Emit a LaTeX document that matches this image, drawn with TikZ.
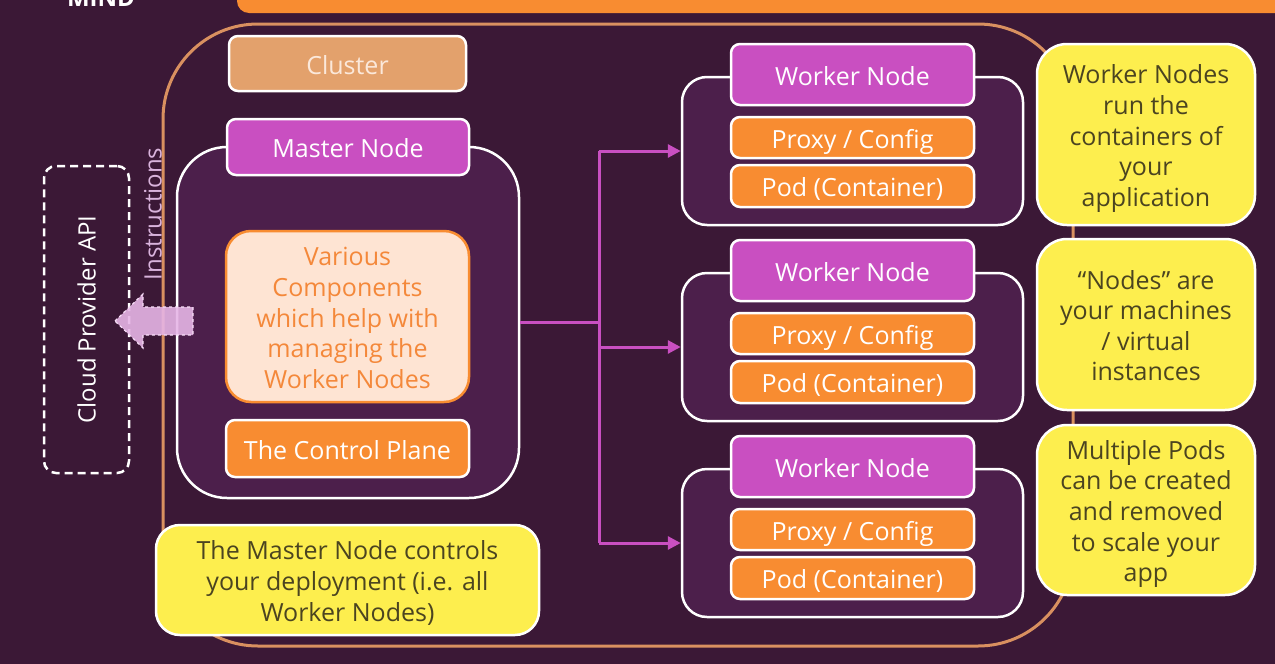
\documentclass[tikz,border=0pt]{standalone}
\usepackage{fontspec}
\setmainfont{Open Sans}
\usetikzlibrary{arrows.meta}
\definecolor{bg}{HTML}{3B1836}
\definecolor{cont}{HTML}{4C1F4B}
\definecolor{magenta}{HTML}{C94FC1}
\definecolor{orng}{HTML}{F88C31}
\definecolor{tan}{HTML}{E3A16C}
\definecolor{ylw}{HTML}{FDEE4E}
\definecolor{ytext}{HTML}{4B4420}
\definecolor{clline}{HTML}{D99060}
\definecolor{peach}{HTML}{FEE4D3}
\definecolor{peachtext}{HTML}{F4883A}
\definecolor{arrowfill}{HTML}{E6B5E6}
\definecolor{arrowline}{HTML}{F7DDF7}
\definecolor{instr}{HTML}{D9B3DC}
\definecolor{clustertext}{HTML}{FBE8DA}
\newcommand\topstr{\rule{0pt}{28pt}}
\newcommand\botstr{\rule[-7pt]{0pt}{7pt}}
\tikzset{
  txt/.style={font=\fontsize{25}{30.6}\selectfont, align=center, inner sep=0pt},
  labelbox/.style={txt, draw=white, line width=2.5pt, rounded corners=9pt, text=white, minimum width=243pt, text height=28pt, text depth=7pt},
  contbox/.style={draw=white, line width=2.5pt, fill=cont},
  yellowbox/.style={txt, draw=white, line width=2.5pt, fill=ylw, text=ytext, rounded corners=30pt},
  link/.style={magenta, line width=3pt},
  linkarrow/.style={link, -{Triangle[length=13pt,width=13pt]}},
  dashbox/.style={draw=white, dash pattern=on 8pt off 5pt, line width=2.5pt},
}
\begin{document}
\begin{tikzpicture}[x=1pt,y=-1pt]
\useasboundingbox (0,0) rectangle (1275,664);
\clip (0,0) rectangle (1275,664);
\fill[bg] (0,0) rectangle (1275,664);
% top bar and logo fragment
\fill[orng, rounded corners=12pt] (237,-30) rectangle (1320,13);
\node[text=white, font=\bfseries\fontsize{24}{24}\selectfont, anchor=base, inner sep=0pt] (logo) at (101,6) {MIND};
% cluster outline
\node[draw=clline, line width=3pt, rounded corners=95pt, minimum width=910pt, minimum height=622pt, inner sep=0pt] (cluster) at (618,335) {};
% cloud provider
\node[dashbox, rounded corners=12pt, minimum width=85pt, minimum height=307pt, inner sep=0pt] (cloud) at (86.5,319.5) {};
\node[txt, text=white, rotate=90, font=\fontsize{24}{24}\selectfont] (cloudtxt) at (cloud.center) {Cloud Provider API};
\node[txt, text=instr, rotate=90, font=\fontsize{24}{24}\selectfont] (instr) at (153,214) {Instructions};
% master node
\node[contbox, rounded corners=50pt, minimum width=342pt, minimum height=351pt, inner sep=0pt] (master) at (348,322.5) {};
\node[labelbox, fill=tan, text=clustertext, minimum width=237pt, minimum height=55pt] (clusterlbl) at (347.5,63.5) {Cluster};
\node[labelbox, fill=magenta, minimum width=242pt, minimum height=56pt] (masterlbl) at (348,147) {Master Node};
\node[txt, draw=orng, line width=2.5pt, fill=peach, text=peachtext, rounded corners=25pt, minimum width=243pt, minimum height=171pt] (comp) at (347.5,316.5) {\topstr Various\\Components\\which help with\\managing the\\Worker Nodes\botstr};
\node[labelbox, fill=orng, minimum height=57pt] (cplane) at (347.5,448.5) {The Control Plane};
\node[yellowbox, rounded corners=24pt, minimum width=383pt, minimum height=110pt] (mnote) at (347.5,580) {\topstr The Master Node controls\\your deployment (i.e. all\\Worker Nodes)\botstr};
% worker nodes
\foreach \i/\dy in {1/0,2/196,3/392}{
  \node[contbox, rounded corners=25pt, minimum width=341pt, minimum height=148pt, inner sep=0pt] (w\i) at (852.5,151+\dy) {};
  \node[labelbox, fill=magenta, minimum height=61pt] (w\i lbl) at (852.5,74.5+\dy) {Worker Node};
  \node[labelbox, fill=orng, minimum height=41pt] (w\i proxy) at (852.5,137.5+\dy) {Proxy / Config};
  \node[labelbox, fill=orng, minimum height=42pt] (w\i pod) at (852.5,186+\dy) {Pod (Container)};
}
% connectors
\coordinate (jn) at (599,322.5);
\draw[link] (master.east) -- (jn);
\draw[link] (jn |- w1.west) -- (jn |- w3.west);
\draw[linkarrow] (jn |- w1.west) -- (w1.west);
\draw[linkarrow] (jn |- w2.west) -- (w2.west);
\draw[linkarrow] (jn |- w3.west) -- (w3.west);
% notes
\node[yellowbox, minimum width=218pt, minimum height=181pt] (n1) at (1146,134.5) {\topstr Worker Nodes\\run the\\containers of\\your\\application\botstr};
\node[yellowbox, minimum width=218pt, minimum height=171pt] (n2) at (1146,324.5) {\topstr “Nodes” are\\your machines\\/ virtual\\instances\botstr};
\node[yellowbox, minimum width=218pt, minimum height=170pt] (n3) at (1146,510) {\topstr Multiple Pods\\can be created\\and removed\\to scale your\\app\botstr};
% instructions arrow
\draw[arrowline, dashed, line width=1.2pt, fill=arrowfill, fill opacity=0.9] (115,321) -- (143,294) -- (143,307) -- (193,307) -- (193,335) -- (143,335) -- (143,348) -- cycle;
\end{tikzpicture}
\end{document}
